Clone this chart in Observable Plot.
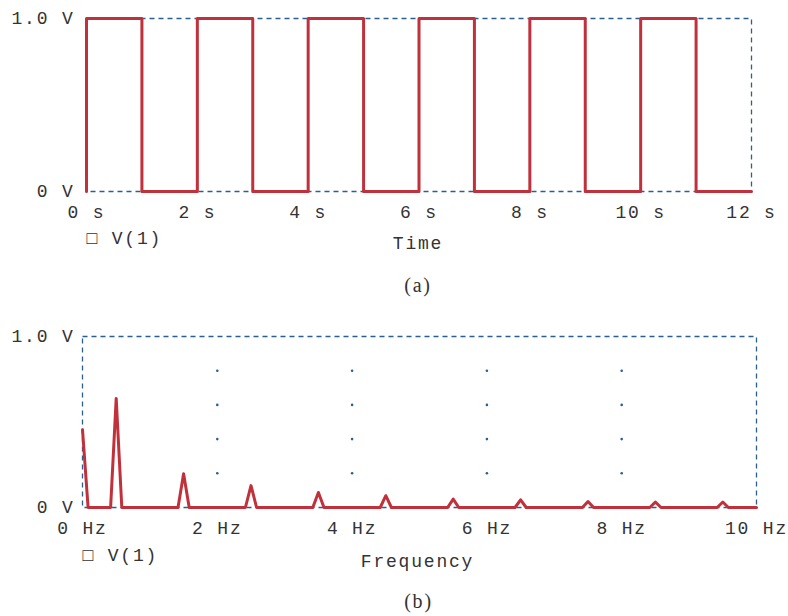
<!DOCTYPE html>
<html>
<head>
<meta charset="utf-8">
<script src="https://cdn.jsdelivr.net/npm/d3@7"></script>
<script src="https://cdn.jsdelivr.net/npm/@observablehq/plot@0.6"></script>
<style>
  body { margin: 0; background: #fff; }
  #chart { width: 788px; height: 616px; position: relative; }
  #chart svg { display: block; }
</style>
</head>
<body>
<div id="chart"></div>
<script>
// ---- Panel (a): square wave in time domain ----
const timeS   = [0, 0, 1, 2, 3, 4, 5, 6, 7, 8, 9, 10, 11, 12];
const voltage = [0, 1, 0, 1, 0, 1, 0, 1, 0, 1, 0, 1, 0, 0];
const timeTicks = [0, 2, 4, 6, 8, 10, 12];
const timeTickLabels = ["0 s", "2 s", "4 s", "6 s", "8 s", "10 s", "12 s"];

// ---- Panel (b): spectrum (line vertices) ----
const freqHz = [0, 0.083, 0.417, 0.5, 0.583, 1.417, 1.5, 1.583, 2.417, 2.5, 2.583,
                3.417, 3.5, 3.583, 4.417, 4.5, 4.583, 5.417, 5.5, 5.583, 6.417, 6.5, 6.583,
                7.417, 7.5, 7.583, 8.417, 8.5, 8.583, 9.417, 9.5, 9.583, 10];
const amplitude = [0.455, 0, 0, 0.638, 0, 0, 0.198, 0, 0, 0.128, 0,
                   0, 0.088, 0, 0, 0.069, 0, 0, 0.049, 0, 0, 0.045, 0,
                   0, 0.035, 0, 0, 0.032, 0, 0, 0.032, 0, 0];
const freqTicks = [0, 2, 4, 6, 8, 10];
const freqTickLabels = ["0 Hz", "2 Hz", "4 Hz", "6 Hz", "8 Hz", "10 Hz"];
const gridFreqs = [2, 4, 6, 8];
const gridVolts = [0.2, 0.4, 0.6, 0.8];

const voltTicks = [0, 1];
const voltTickLabels = ["0 V", "1.0 V"];
const legendLabel = "\u25A1 V(1)";

const RED = "#c1313b";
const BLUE = "#2a5f92";
const TEXT = "#333";
const style = {fontFamily: "'Liberation Mono', 'DejaVu Sans Mono', monospace", fontSize: "18px", letterSpacing: "1.8px", color: TEXT, background: "white", overflow: "visible"};

const waveData = timeS.map((t, i) => ({t, v: voltage[i]}));
const specData = freqHz.map((f, i) => ({f, a: amplitude[i]}));
const gridData = gridFreqs.flatMap(f => gridVolts.map(v => ({f, v})));

const fmtVolt = d => voltTickLabels[voltTicks.indexOf(d)];
const frameStyle = {stroke: BLUE, strokeDasharray: "5,4", strokeWidth: 1.3};
const captionFont = {fill: TEXT, fontFamily: "'Liberation Serif', serif", fontSize: 20, letterSpacing: "0px"};

const panelA = Plot.plot({
  width: 788, height: 300,
  marginLeft: 86, marginRight: 37, marginTop: 18, marginBottom: 109,
  style,
  x: {domain: [0, 12], label: null},
  y: {domain: [0, 1], label: null},
  marks: [
    Plot.frame(frameStyle),
    Plot.axisX({ticks: timeTicks, tickFormat: d => timeTickLabels[timeTicks.indexOf(d)], tickSize: 0, tickPadding: 14, fill: TEXT}),
    Plot.axisY({ticks: voltTicks, tickFormat: fmtVolt, tickSize: 0, tickPadding: 12, fill: TEXT}),
    Plot.line(waveData, {x: "t", y: "v", curve: "step-after", stroke: RED, strokeWidth: 3}),
    Plot.text([legendLabel], {text: d => d, frameAnchor: "bottom-left", textAnchor: "start", lineAnchor: "middle", dy: 47, fill: TEXT}),
    Plot.text(["Time"], {text: d => d, frameAnchor: "bottom", lineAnchor: "middle", dy: 52, dx: -1, fill: TEXT}),
    Plot.text(["(a)"], {text: d => d, frameAnchor: "bottom", lineAnchor: "middle", dy: 94, dx: -1, ...captionFont})
  ]
});

const panelB = Plot.plot({
  width: 788, height: 316,
  marginLeft: 82, marginRight: 32, marginTop: 36, marginBottom: 109,
  style,
  x: {domain: [0, 10], label: null},
  y: {domain: [0, 1], label: null},
  marks: [
    Plot.frame(frameStyle),
    Plot.dot(gridData, {x: "f", y: "v", r: 1.3, fill: BLUE, stroke: null}),
    Plot.axisX({ticks: freqTicks, tickFormat: d => freqTickLabels[freqTicks.indexOf(d)], tickSize: 0, tickPadding: 14, fill: TEXT}),
    Plot.axisY({ticks: voltTicks, tickFormat: fmtVolt, tickSize: 0, tickPadding: 8, fill: TEXT}),
    Plot.line(specData, {x: "f", y: "a", stroke: RED, strokeWidth: 3}),
    Plot.text([legendLabel], {text: d => d, frameAnchor: "bottom-left", textAnchor: "start", lineAnchor: "middle", dy: 48, fill: TEXT}),
    Plot.text(["Frequency"], {text: d => d, frameAnchor: "bottom", lineAnchor: "middle", dy: 54, dx: -2, fill: TEXT}),
    Plot.text(["(b)"], {text: d => d, frameAnchor: "bottom", lineAnchor: "middle", dy: 94, dx: -1, ...captionFont})
  ]
});

const root = document.getElementById("chart");
root.appendChild(panelA);
root.appendChild(panelB);
</script>
</body>
</html>
